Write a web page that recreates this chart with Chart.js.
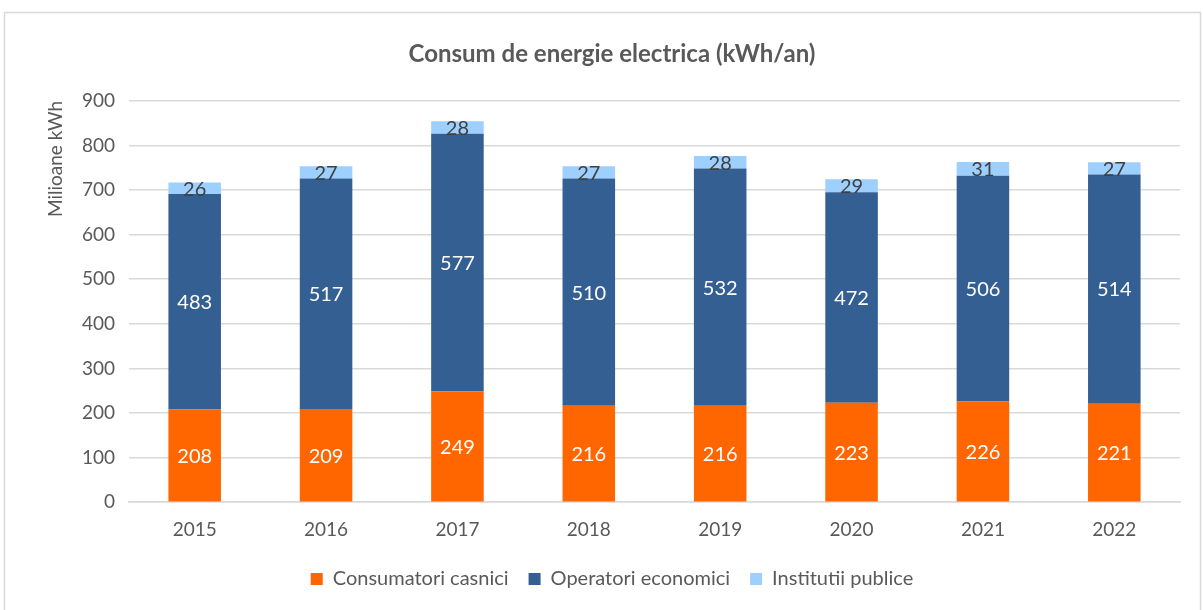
<!DOCTYPE html>
<html>
<head>
<meta charset="utf-8">
<script src="https://cdn.jsdelivr.net/npm/chart.js@4"></script>
<style>
  html, body { margin: 0; padding: 0; background: #fff; }
  #wrap { width: 1203px; height: 610px; position: relative; }
</style>
</head>
<body>
<div id="wrap"><canvas id="c" width="1203" height="610"></canvas></div>
<script>
// chart data
const years = ['2015', '2016', '2017', '2018', '2019', '2020', '2021', '2022'];
const casnici = [208, 209, 249, 216, 216, 223, 226, 221];
const economici = [483, 517, 577, 510, 532, 472, 506, 514];
const publice = [26, 27, 28, 27, 28, 29, 31, 27];
const yTicks = [0, 100, 200, 300, 400, 500, 600, 700, 800, 900];

const grey = '#595959';
const fontName = 'Lato, "Open Sans", sans-serif';

// outer frame like the spreadsheet chart box
const framePlugin = {
    id: 'frame',
    beforeDraw(chart) {
        const ctx = chart.ctx;
        ctx.save();
        ctx.strokeStyle = '#d9d9d9';
        ctx.lineWidth = 1.5;
        ctx.strokeRect(4.5, 12.5, 1196, 620);
        ctx.restore();
    }
};

// value labels centered in each segment
const labelPlugin = {
    id: 'segLabels',
    afterDatasetsDraw(chart) {
        const ctx = chart.ctx;
        ctx.save();
        ctx.font = '20px ' + fontName;
        ctx.textAlign = 'center';
        ctx.textBaseline = 'middle';
        chart.data.datasets.forEach((ds, di) => {
            const meta = chart.getDatasetMeta(di);
            meta.data.forEach((bar, i) => {
                const mid = (bar.y + bar.base) / 2;
                ctx.fillStyle = di === 2 ? '#404040' : '#ffffff';
                ctx.fillText(ds.data[i], bar.x, mid + 1);
            });
        });
        ctx.restore();
    }
};

new Chart(document.getElementById('c'), {
    type: 'bar',
    data: {
        labels: years,
        datasets: [
            { label: 'Consumatori casnici', data: casnici, backgroundColor: '#ff6600' },
            { label: 'Operatori economici', data: economici, backgroundColor: '#335f93' },
            { label: 'Institutii publice', data: publice, backgroundColor: '#9dcfff' }
        ]
    },
    options: {
        responsive: false,
        animation: false,
        layout: { padding: { left: 44, right: 23, top: 24, bottom: 11 } },
        datasets: { bar: { barPercentage: 0.4, categoryPercentage: 1 } },
        scales: {
            x: {
                stacked: true,
                grid: { display: false },
                border: { color: '#d9d9d9', width: 1.5 },
                ticks: { color: grey, font: { family: fontName, size: 19 }, padding: 8 }
            },
            y: {
                stacked: true,
                min: 0,
                max: 900,
                afterBuildTicks(scale) { scale.ticks = yTicks.map(v => ({ value: v })); },
                afterFit(scale) { scale.width = 85; },
                grid: { color: '#d9d9d9', lineWidth: 1.5, drawTicks: false },
                border: { display: false },
                ticks: { color: grey, font: { family: fontName, size: 19 }, padding: 14 },
                title: {
                    display: true,
                    text: 'Milioane kWh',
                    align: 'end',
                    color: grey,
                    font: { family: fontName, size: 19 },
                    padding: { top: 0, bottom: 0 }
                }
            }
        },
        plugins: {
            title: {
                display: true,
                text: 'Consum de energie electrica (kWh/an)',
                color: grey,
                font: { family: fontName, size: 24, weight: 'bold' },
                padding: { top: 16, bottom: 32 }
            },
            legend: {
                position: 'bottom',
                labels: {
                    color: grey,
                    font: { family: fontName, size: 20 },
                    boxWidth: 12,
                    boxHeight: 12,
                    padding: 20
                }
            },
            tooltip: { enabled: false }
        }
    },
    plugins: [framePlugin, labelPlugin]
});
</script>
</body>
</html>
